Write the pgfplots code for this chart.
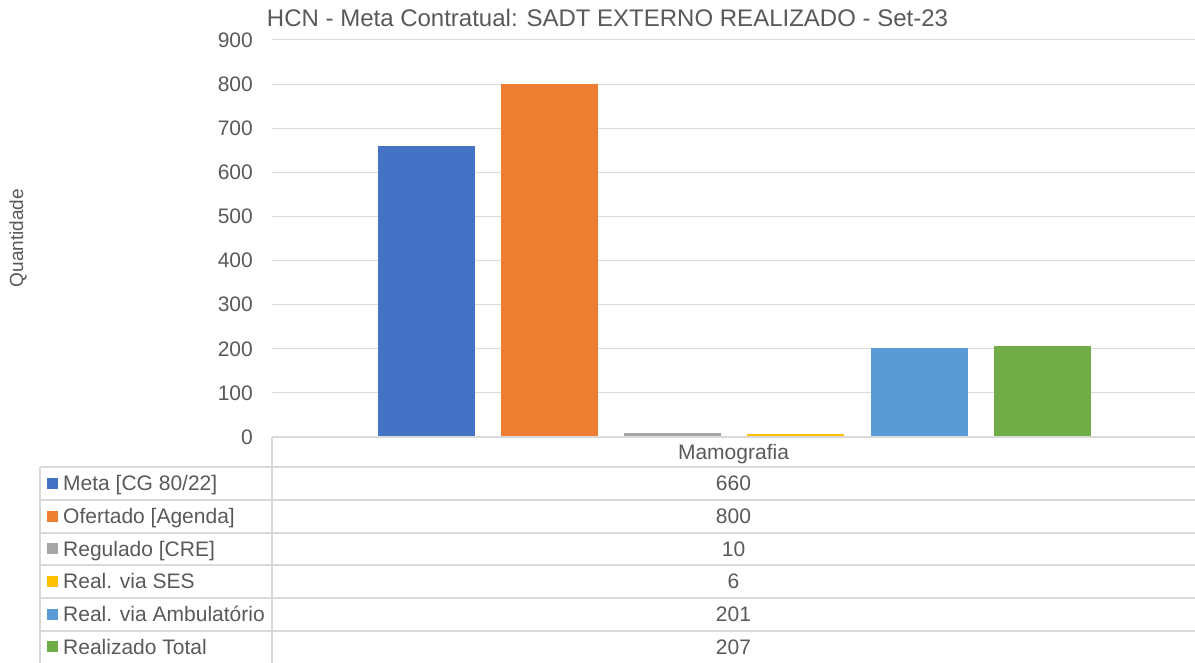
\documentclass[border=0pt]{standalone}
\usepackage{pgfplots}
\pgfplotsset{compat=1.18}
\usepackage{fontspec}
\setmainfont{Liberation Sans}
\definecolor{txt}{HTML}{595959}
\definecolor{grd}{HTML}{D9D9D9}
\definecolor{c1}{HTML}{4472C4}
\definecolor{c2}{HTML}{ED7D31}
\definecolor{c3}{HTML}{A5A5A5}
\definecolor{c4}{HTML}{FFC000}
\definecolor{c5}{HTML}{5B9BD5}
\definecolor{c6}{HTML}{70AD47}
\begin{document}
\begin{tikzpicture}[x=1pt,y=1pt]
\useasboundingbox (0,0) rectangle (1195,663);
\begin{axis}[at={(272pt,226pt)}, anchor=south west, scale only axis,
  width=923pt, height=397pt, xmin=0, xmax=923, ymin=0, ymax=900,
  ytick={0,100,...,900}, xtick=\empty, axis line style={draw=none},
  major tick length=0pt, ymajorgrids, grid style={grd, line width=1pt},
  yticklabel style={font=\fontsize{21}{25}\selectfont, text=txt, inner sep=0pt, xshift=-19pt},
  /pgf/number format/assume math mode=true, clip=false]
\addplot[ybar, bar width=97, bar shift=0pt, fill=c1, draw=none] coordinates {(154.5,660)};
\addplot[ybar, bar width=97, bar shift=0pt, fill=c2, draw=none] coordinates {(277.5,800)};
\addplot[ybar, bar width=97, bar shift=0pt, fill=c3, draw=none] coordinates {(400.5,10)};
\addplot[ybar, bar width=97, bar shift=0pt, fill=c4, draw=none] coordinates {(523.5,6)};
\addplot[ybar, bar width=97, bar shift=0pt, fill=c5, draw=none] coordinates {(647.5,201)};
\addplot[ybar, bar width=97, bar shift=0pt, fill=c6, draw=none] coordinates {(770.5,207)};
\end{axis}
% title and y label
\node[anchor=base, text=txt, font=\fontsize{24}{28}\selectfont, inner sep=0pt] at (607.5,636) {HCN - Meta Contratual: SADT EXTERNO REALIZADO - Set-23};
\node[rotate=90, text=txt, font=\fontsize{19}{23}\selectfont, inner sep=0pt] at (18,425) {Quantidade};
% data table
\begin{scope}[draw=grd, line width=1.3pt]
\draw (272,226) -- (1195,226);
\foreach \yy in {196,163,130,98,65,32} \draw (40,\yy) -- (1195,\yy);
\draw (272,226) -- (272,0);
\draw (40,196) -- (40,0);
\end{scope}
\begin{scope}[every node/.style={text=txt, font=\fontsize{21}{25}\selectfont, inner sep=0pt}]
\node[anchor=base] at (733.5,203.5) {Mamografia};
\foreach \yc/\col/\lab/\val in {179.5/c1/{Meta [CG 80/22]}/660, 146.5/c2/{Ofertado [Agenda]}/800, 114/c3/{Regulado [CRE]}/10, 81.5/c4/{Real. via SES}/6, 48.5/c5/{Real. via Ambulatório}/201, 16/c6/{Realizado Total}/207}{
  \fill[\col] (47,\yc-5.5) rectangle (58,\yc+5.5);
  \node[anchor=base west] at (63,\yc-7.5) {\lab};
  \node[anchor=base] at (733.5,\yc-7.5) {\val};
}
\end{scope}
\end{tikzpicture}
\end{document}
